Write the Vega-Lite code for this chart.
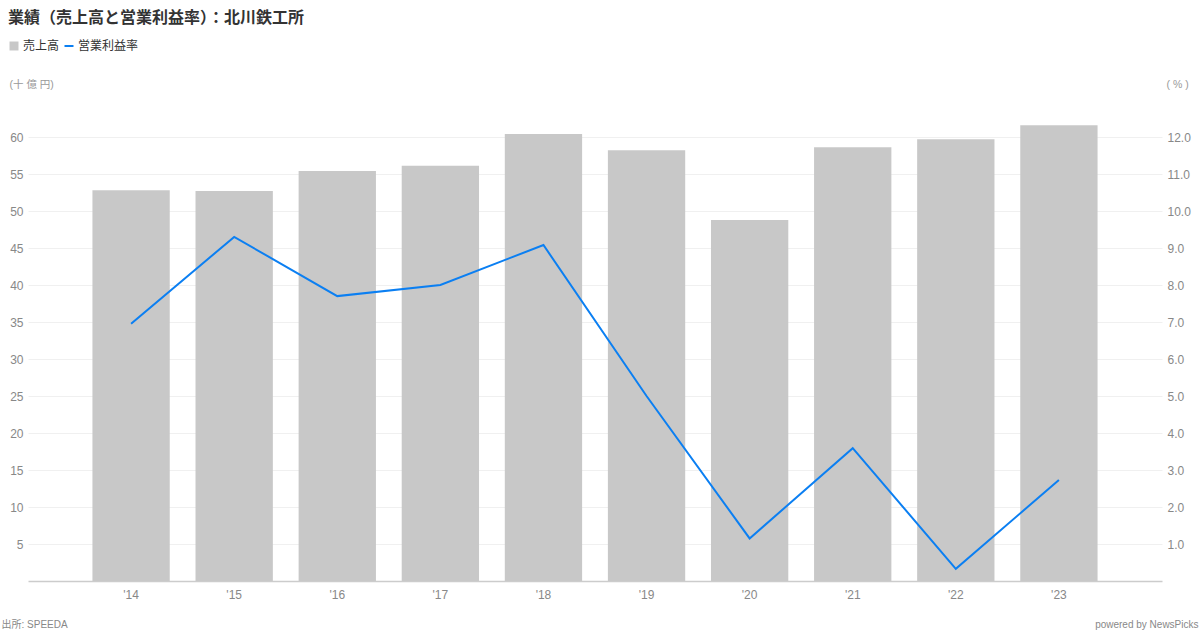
{
  "$schema": "https://vega.github.io/schema/vega-lite/v6.json",
  "width": 1134,
  "height": 481,
  "autosize": "none",
  "padding": {"left": 28, "top": 100, "right": 38, "bottom": 49},
  "background": "white",
  "title": {
    "text": "業績（売上高と営業利益率）：北川鉄工所",
    "anchor": "start",
    "frame": "group",
    "dx": -20,
    "fontSize": 16,
    "fontWeight": "bold",
    "color": "#333333",
    "offset": 14
  },
  "data": {
    "values": [
      {"year": "'14", "sales": 52.8, "margin": 6.95},
      {"year": "'15", "sales": 52.7, "margin": 9.3},
      {"year": "'16", "sales": 55.4, "margin": 7.7},
      {"year": "'17", "sales": 56.1, "margin": 8.0},
      {"year": "'18", "sales": 60.4, "margin": 9.08},
      {"year": "'19", "sales": 58.2, "margin": 5.0},
      {"year": "'20", "sales": 48.8, "margin": 1.15},
      {"year": "'21", "sales": 58.6, "margin": 3.59},
      {"year": "'22", "sales": 59.7, "margin": 0.33},
      {"year": "'23", "sales": 61.6, "margin": 2.73}
    ]
  },
  "layer": [
    {
      "mark": {"type": "bar", "color": "#c8c8c8"},
      "encoding": {
        "x": {
          "field": "year", "type": "nominal", "sort": null,
          "scale": {"type": "band", "paddingInner": 0.25, "paddingOuter": 0.625},
          "axis": {
            "orient": "bottom", "labelAngle": 0, "ticks": false, "grid": false,
            "domain": true, "domainColor": "#cccccc", "domainWidth": 1.5,
            "labelColor": "#888888", "labelFontSize": 12, "labelPadding": 8,
            "title": "出所: SPEEDA", "titleFontSize": 10, "titleFontWeight": "normal",
            "titleColor": "#888888", "titleAlign": "left", "titleAnchor": null,
            "titleX": -27, "titleY": 43, "titleBaseline": "middle"
          }
        },
        "y": {
          "field": "sales", "type": "quantitative",
          "scale": {"domain": [0, 65], "nice": false},
          "axis": {
            "orient": "left", "values": [5, 10, 15, 20, 25, 30, 35, 40, 45, 50, 55, 60],
            "grid": true, "gridColor": "#f0f0f0", "domain": false, "ticks": false,
            "labelColor": "#888888", "labelFontSize": 12, "labelPadding": 5,
            "title": "(十 億 円)", "titleAngle": 0, "titleFontSize": 10.5, "titleFontWeight": "normal",
            "titleColor": "#999999", "titleAlign": "left", "titleAnchor": null,
            "titleX": -19, "titleY": -16, "titleBaseline": "middle"
          }
        },
        "color": {
          "datum": "売上高",
          "scale": {"domain": ["売上高", "営業利益率"], "range": ["#c8c8c8", "#0b7ff2"]},
          "legend": {
            "orient": "none", "legendX": -20, "legendY": -60, "direction": "horizontal",
            "title": null, "labelFontSize": 12, "labelColor": "#333333",
            "symbolSize": 81, "columnPadding": 0, "labelOffset": 3,
            "encode": {
              "symbols": {
                "update": {
                  "shape": {"signal": "datum.value === '売上高' ? 'square' : 'stroke'"},
                  "fill": {"signal": "datum.value === '売上高' ? '#c8c8c8' : 'transparent'"},
                  "stroke": {"signal": "datum.value === '売上高' ? '#c8c8c8' : '#0b7ff2'"},
                  "strokeWidth": {"signal": "datum.value === '売上高' ? 0 : 2"}
                }
              }
            }
          }
        }
      }
    },
    {
      "mark": {"type": "line", "color": "#0b7ff2", "strokeWidth": 2},
      "encoding": {
        "x": {
          "field": "year", "type": "nominal", "sort": null,
          "scale": {"type": "band", "paddingInner": 0.25, "paddingOuter": 0.625},
          "axis": {
            "orient": "top", "labels": false, "ticks": false, "grid": false, "domain": false,
            "title": "powered by NewsPicks", "titleFontSize": 10, "titleFontWeight": "normal",
            "titleColor": "#888888", "titleAlign": "right", "titleAnchor": null,
            "titleX": 1170, "titleY": 524, "titleBaseline": "middle"
          }
        },
        "y": {
          "field": "margin", "type": "quantitative",
          "scale": {"domain": [0, 13], "nice": false},
          "axis": {
            "orient": "right", "values": [1, 2, 3, 4, 5, 6, 7, 8, 9, 10, 11, 12], "format": ".1f",
            "grid": false, "domain": false, "ticks": false,
            "labelColor": "#888888", "labelFontSize": 12, "labelPadding": 5,
            "title": "( % )", "titleAngle": 0, "titleFontSize": 10.5, "titleFontWeight": "normal",
            "titleColor": "#999999", "titleAlign": "left", "titleAnchor": null,
            "titleX": 4, "titleY": -16, "titleBaseline": "middle"
          }
        },
        "color": {"datum": "営業利益率"}
      }
    }
  ],
  "resolve": {
    "scale": {"x": "independent", "y": "independent"},
    "axis": {"x": "independent", "y": "independent"}
  },
  "config": {
    "view": {"stroke": null},
    "font": "'Liberation Sans', 'Noto Sans CJK JP', sans-serif"
  }
}
